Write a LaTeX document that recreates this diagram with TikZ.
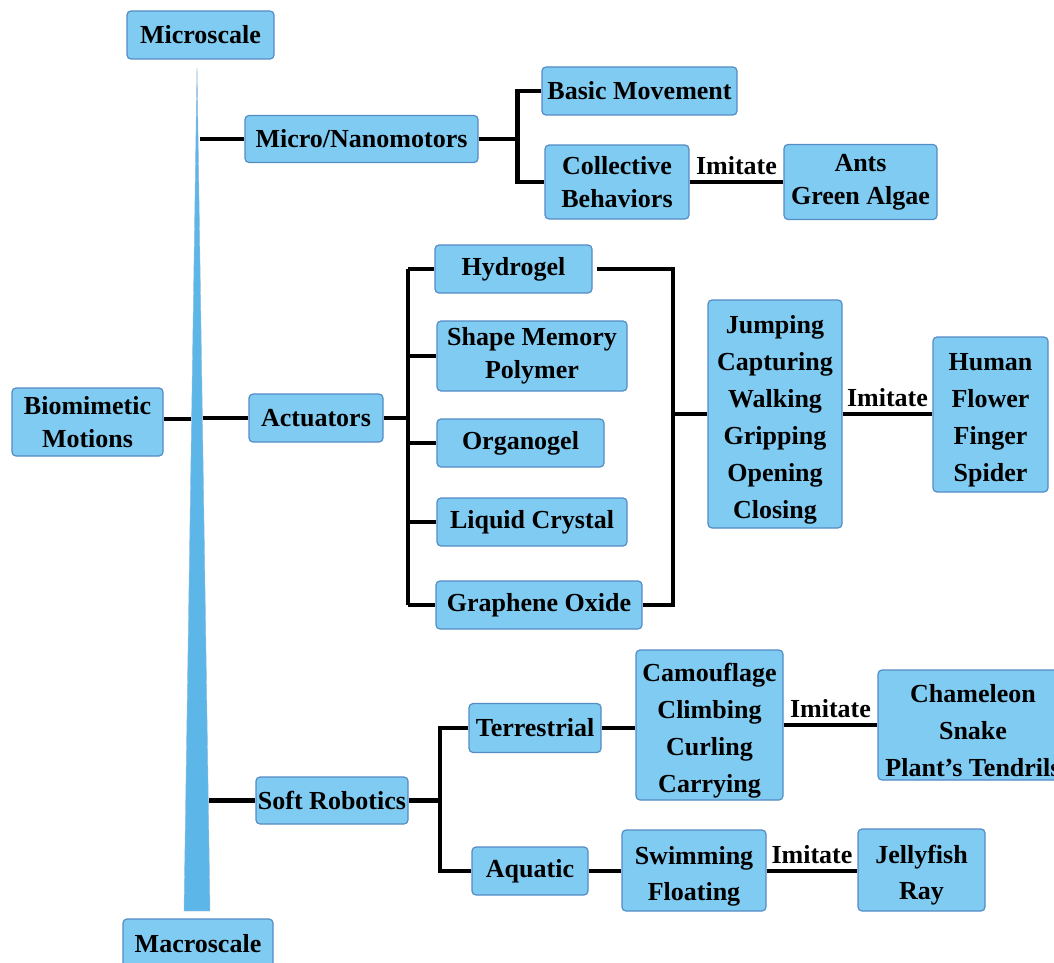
\documentclass[tikz,border=0pt]{standalone}
\usepackage{fontspec}
\setmainfont{Liberation Serif}

\definecolor{boxfill}{RGB}{128,203,242}
\definecolor{boxline}{RGB}{84,140,196}
\definecolor{wedgefill}{RGB}{92,182,232}

\newcommand{\toppad}{\rule{0pt}{29pt}}	% pushes stacked labels down a little

\tikzset{
	box/.style = {draw = boxline, fill = boxfill, line width = 1.2pt, rounded corners = 4pt,
		align = center, inner sep = 0pt, font = \fontsize{26}{33}\selectfont\bfseries},
	tallbox/.style = {box, font = \fontsize{26}{37}\selectfont\bfseries},
	pairbox/.style = {box, font = \fontsize{26}{36}\selectfont\bfseries},
	link/.style = {line width = 4.5pt},
	imitate/.style = {above = 1pt, inner sep = 4pt, font = \fontsize{26}{30}\selectfont\bfseries}
}

\begin{document}
\begin{tikzpicture}[x = 1pt, y = -1pt]

	% Page frame (same size as the reference)

	\useasboundingbox (0, 0) rectangle (1054, 963);
	\clip (0, 0) rectangle (1054, 963);

	% Scale wedge from micro to macro

	\def\tipx{197}		% x of the wedge tip
	\def\tipy{68}		% y of the wedge tip
	\def\basey{911}		% y of the wedge base

	\fill [wedgefill, draw = boxline!60, line width = 0.4pt] (\tipx, \tipy) -- (210, \basey) -- (184, \basey) -- cycle;

	\coordinate (wnano) at (200, 139);
	\coordinate (wbioL) at (191, 419);
	\coordinate (wbioR) at (203, 418);
	\coordinate (wsoft) at (209, 800.5);

	\node [box, minimum width = 147, minimum height = 48] (micro) at (200.5, 35) {Microscale};
	\node [box, minimum width = 150, minimum height = 50] (macro) at (198, 944) {Macroscale};

	% Root

	\node [box, minimum width = 151, minimum height = 68] (bio) at (87.5, 422) {Biomimetic\\Motions};
	\draw [link] (bio.east |- wbioL) -- (wbioL);

	% Micro/nanomotors branch

	\node [box, minimum width = 233, minimum height = 47] (nano) at (361.5, 139) {Micro/Nanomotors};
	\node [box, minimum width = 195, minimum height = 48] (basic) at (639.5, 91) {Basic Movement};
	\node [box, minimum width = 144, minimum height = 74] (coll) at (617, 182) {Collective\\Behaviors};
	\node [box, minimum width = 153, minimum height = 75] (ants) at (860.5, 182) {Ants\\Green Algae};

	\draw [link] (wnano) -- (nano.west |- wnano);
	\draw [link] (nano.east) -- ++(39, 0) coordinate (jnano);
	\draw [link] (basic.west) -| (jnano) |- (coll.west);
	\draw [link] (coll.east) -- node [imitate] {Imitate} (ants.west);

	% Actuators branch

	\node [box, minimum width = 134, minimum height = 48] (act) at (316, 418) {Actuators};
	\draw [link] (wbioR) -- (act.west |- wbioR);

	\node [box, minimum width = 157, minimum height = 48] (hydro) at (513.5, 269) {Hydrogel};
	\node [box, minimum width = 190, minimum height = 70] (smp) at (532, 356) {Shape Memory\\Polymer};
	\node [box, minimum width = 167, minimum height = 48] (organo) at (520.5, 443) {Organogel};
	\node [box, minimum width = 190, minimum height = 48] (lc) at (532, 522) {Liquid Crystal};
	\node [box, minimum width = 206, minimum height = 48] (go) at (539, 605) {Graphene Oxide};

	\node [tallbox, minimum width = 134, minimum height = 228] (jump) at (775, 414) {\toppad Jumping\\Capturing\\Walking\\Gripping\\Opening\\Closing};
	\node [tallbox, minimum width = 115, minimum height = 155] (human) at (990.5, 414.5) {\toppad Human\\Flower\\Finger\\Spider};

	\draw [link] (act.east) -- (408, 418) coordinate (jact);
	\draw [link] (jact |- hydro) -- (jact |- go);
	\foreach \m in {hydro, smp, organo, lc, go}
		\draw [link] (jact |- \m) -- (\m.west);

	\draw [link] (hydro.east) ++(4, 0) -| (673, 414) coordinate (jmat) |- (go.east);
	\draw [link] (jmat) -- (jump.west |- jmat);
	\draw [link] (jump.east |- jmat) -- node [imitate] {Imitate} (human.west |- jmat);

	% Soft robotics branch

	\node [box, minimum width = 152, minimum height = 47] (soft) at (332, 800.5) {Soft Robotics};
	\draw [link] (wsoft) -- (soft.west |- wsoft);

	\node [box, minimum width = 132, minimum height = 49] (terr) at (535, 728) {Terrestrial};
	\node [box, minimum width = 116, minimum height = 48] (aqua) at (530, 871) {Aquatic};
	\node [tallbox, minimum width = 147, minimum height = 150] (camo) at (709.5, 725) {\toppad Camouflage\\Climbing\\Curling\\Carrying};
	\node [tallbox, minimum width = 190, minimum height = 110] (cham) at (973, 725) {\toppad Chameleon\\Snake\\Plant’s Tendrils};
	\node [pairbox, minimum width = 144, minimum height = 81] (swim) at (694, 870.5) {\toppad Swimming\\Floating};
	\node [pairbox, minimum width = 127, minimum height = 82] (jelly) at (921.5, 870) {\toppad Jellyfish\\Ray};

	\draw [link] (soft.east) -- (440, 800.5) coordinate (jsoft);
	\draw [link] (terr.west) -| (jsoft) |- (aqua.west);
	\draw [link] (terr.east) -- (camo.west |- terr);
	\draw [link] (camo.east) -- node [imitate] {Imitate} (cham.west);
	\draw [link] (aqua.east) -- (swim.west |- aqua);
	\draw [link] (swim.east |- aqua) -- node [imitate] {Imitate} (jelly.west |- aqua);

\end{tikzpicture}
\end{document}
